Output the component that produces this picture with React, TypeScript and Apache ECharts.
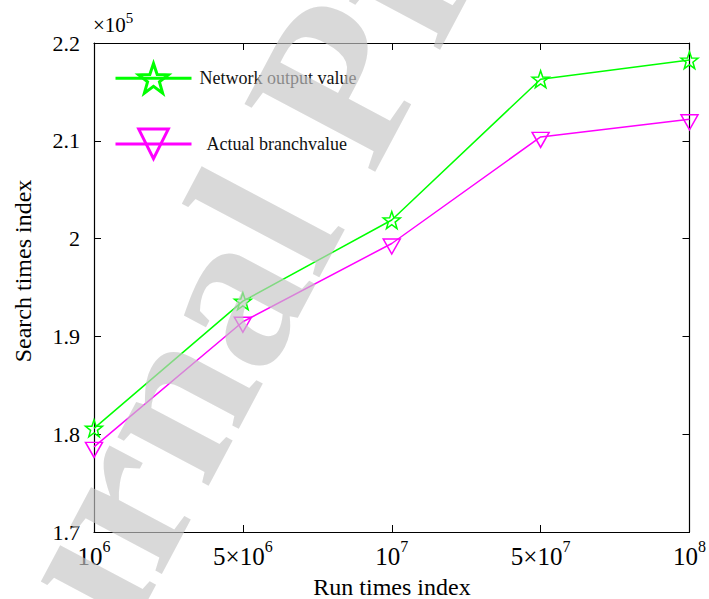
import React, { useEffect, useRef } from "react";
import * as echarts from "echarts";

const xLabels = ["10^6", "5×10^6", "10^7", "5×10^7", "10^8"];
const networkOutput = [1.806, 1.936, 2.019, 2.163, 2.1825];
const actualBranch = [1.787, 1.915, 1.995, 2.104, 2.122];
const seriesNames = ["Network output value", "Actual branchvalue"];
const yMin = 1.7;
const yMax = 2.2;
const yStep = 0.1;

const FONT = "Liberation Serif";
const GREEN = "#00ff00";
const MAGENTA = "#ff00ff";
const STAR =
  "path://M50,0 L61.76,33.82 L97.55,34.55 L69.02,56.18 L79.39,90.45 L50,70 L20.61,90.45 L30.98,56.18 L2.45,34.55 L38.24,33.82 Z";
const TRI_DOWN = "path://M0,0 L100,0 L50,90 Z";

function fmtX(v: string) {
  const parts = v.split("^");
  return `{b|${parts[0]}}{s|${parts[1]}}`;
}

export default function App() {
  const ref = useRef<HTMLDivElement>(null);
  useEffect(() => {
    if (!ref.current) return;
    const chart = echarts.init(ref.current, undefined, { renderer: "svg" });
    const ang = (62 * Math.PI) / 180;
    const option: any = {
      animation: false,
      backgroundColor: "#ffffff",
      textStyle: { fontFamily: FONT },
      grid: { left: 94, right: 17, top: 43, bottom: 67, containLabel: false },
      legend: {
        orient: "vertical",
        left: 109,
        top: 57,
        itemWidth: 76,
        itemHeight: 37,
        itemGap: 33,
        selectedMode: false,
        textStyle: { fontFamily: FONT, fontSize: 18, color: "#111" },
        data: [
          {
            name: seriesNames[0],
            itemStyle: { color: "rgba(0,0,0,0)", borderColor: GREEN, borderWidth: 3 },
            lineStyle: { color: GREEN, width: 3 },
            textStyle: { padding: [0, 0, 0, 3] },
          },
          {
            name: seriesNames[1],
            itemStyle: { color: "rgba(0,0,0,0)", borderColor: MAGENTA, borderWidth: 3 },
            lineStyle: { color: MAGENTA, width: 3 },
            textStyle: { padding: [0, 0, 0, 10] },
          },
        ],
      },
      xAxis: [
        {
          type: "category",
          data: xLabels,
          boundaryGap: false,
          position: "bottom",
          axisLine: { lineStyle: { color: "#000", width: 1.2 } },
          axisTick: { inside: true, length: 7, interval: 0, lineStyle: { color: "#000" } },
          axisLabel: {
            margin: 6,
            interval: 0,
            fontFamily: FONT,
            fontSize: 25,
            color: "#000",
            formatter: fmtX,
            rich: {
              b: { fontFamily: FONT, fontSize: 25, color: "#000", lineHeight: 36 },
              s: { fontFamily: FONT, fontSize: 16, color: "#000", lineHeight: 16, verticalAlign: "top" },
            },
          },
          splitLine: { show: false },
        },
        {
          type: "category",
          data: xLabels,
          boundaryGap: false,
          position: "top",
          axisLine: { lineStyle: { color: "#000", width: 1.2 } },
          axisTick: { inside: true, length: 7, interval: 0, lineStyle: { color: "#000" } },
          axisLabel: { show: false },
          splitLine: { show: false },
        },
      ],
      yAxis: [
        {
          type: "value",
          min: yMin,
          max: yMax,
          interval: yStep,
          position: "left",
          axisLine: { show: true, lineStyle: { color: "#000", width: 1.2 } },
          axisTick: { show: true, inside: true, length: 7, lineStyle: { color: "#000" } },
          axisLabel: {
            margin: 14,
            fontFamily: FONT,
            fontSize: 22,
            color: "#000",
            formatter: (v: number) => String(Math.round(v * 10) / 10),
          },
          splitLine: { show: false },
        },
        {
          type: "value",
          min: yMin,
          max: yMax,
          interval: yStep,
          position: "right",
          axisLine: { show: true, lineStyle: { color: "#000", width: 1.2 } },
          axisTick: { show: true, inside: true, length: 7, lineStyle: { color: "#000" } },
          axisLabel: { show: false },
          splitLine: { show: false },
        },
      ],
      graphic: [
        {
          type: "text",
          x: 23,
          y: 271,
          rotation: Math.PI / 2,
          style: {
            text: "Search times index",
            fontFamily: FONT,
            fontSize: 24,
            fill: "#000",
            textAlign: "center",
            textVerticalAlign: "middle",
          },
        },
        {
          type: "text",
          x: 392,
          y: 587,
          style: {
            text: "Run times index",
            fontFamily: FONT,
            fontSize: 24,
            fill: "#000",
            textAlign: "center",
            textVerticalAlign: "middle",
          },
        },
        {
          type: "text",
          x: 93,
          y: 10,
          style: {
            text: "{b|×10}{s|5}",
            fontFamily: FONT,
            fontSize: 21,
            fill: "#000",
            textAlign: "left",
            textVerticalAlign: "top",
            rich: {
              b: { fontFamily: FONT, fontSize: 21, fill: "#000", lineHeight: 30 },
              s: { fontFamily: FONT, fontSize: 15, fill: "#000", lineHeight: 15, verticalAlign: "top" },
            },
          },
        },
        {
          type: "text",
          z: 100,
          silent: true,
          x: -72,
          y: 853,
          rotation: ang,
          style: {
            text: "Journal Pre-proof",
            fontFamily: FONT,
            fontSize: 225,
            fontWeight: "bold",
            fill: "#c5c5c5",
            opacity: 0.66,
            textAlign: "left",
            textVerticalAlign: "middle",
          },
        },
      ],
      series: [
        {
          name: seriesNames[0],
          type: "line",
          data: networkOutput,
          xAxisIndex: 0,
          yAxisIndex: 0,
          symbol: STAR,
          symbolSize: 17,
          showAllSymbol: true,
          lineStyle: { color: GREEN, width: 1.5 },
          itemStyle: { color: "rgba(0,0,0,0)", borderColor: GREEN, borderWidth: 1.5 },
          z: 5,
        },
        {
          name: seriesNames[1],
          type: "line",
          data: actualBranch,
          xAxisIndex: 0,
          yAxisIndex: 0,
          symbol: TRI_DOWN,
          symbolSize: [17, 15],
          symbolOffset: [0, 3],
          showAllSymbol: true,
          lineStyle: { color: MAGENTA, width: 1.5 },
          itemStyle: { color: "rgba(0,0,0,0)", borderColor: MAGENTA, borderWidth: 1.5 },
          z: 5,
        },
      ],
    };
    chart.setOption(option);
    return () => chart.dispose();
  }, []);
  return <div ref={ref} style={{ width: 709, height: 599, position: "absolute", left: 0, top: 0 }} />;
}
